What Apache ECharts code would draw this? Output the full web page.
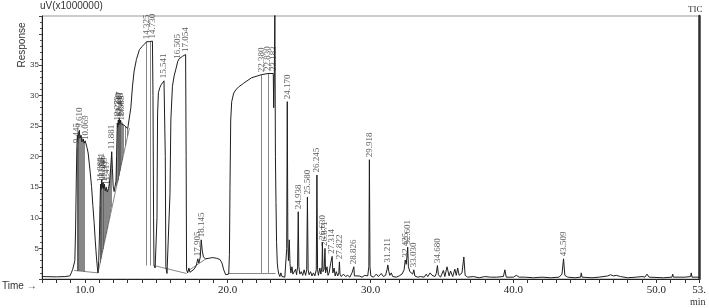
<!DOCTYPE html>
<html><head><meta charset="utf-8">
<script src="https://cdn.jsdelivr.net/npm/echarts@6/dist/echarts.min.js"></script>
<style>html,body{margin:0;padding:0;background:#fff}#c{width:709px;height:308px}</style>
</head><body><div id="c"></div>
<script>
// Retention time (min) and response (uV x 1,000,000)
const times = [7.00,8.00,8.60,8.95,9.05,9.15,9.25,9.30,9.35,9.40,9.44,9.478,9.51,9.55,9.61,9.66,9.72,9.80,9.88,9.95,10.02,10.069,10.15,10.23,10.35,10.47,10.56,10.65,10.73,10.81,10.87,10.92,
10.97,11.02,11.06,11.10,11.14,11.18,11.22,11.27,11.32,11.37,11.43,11.50,11.57,11.65,11.72,11.80,11.881,11.93,11.98,12.05,12.12,
12.18,12.22,12.27,12.31,12.34,12.38,12.42,12.46,12.50,12.55,12.62,12.72,12.85,13.00,13.12,
13.22,13.33,13.45,13.61,13.82,14.00,14.17,14.325,14.50,14.73,14.77,14.81,14.84,14.92,15.00,
15.05,15.09,15.15,15.25,15.35,15.45,15.541,15.60,15.63,15.67,15.75,15.88,
15.96,16.02,16.13,16.25,16.37,16.505,16.60,16.83,17.054,17.09,17.12,17.20,17.28,17.36,17.50,17.65,17.80,17.905,17.98,18.08,18.145,18.22,18.30,18.45,18.70,18.95,19.20,19.45,19.60,19.72,19.86,20.00,
20.07,20.12,20.16,20.21,20.28,20.42,20.56,20.76,21.11,21.67,22.36,22.83,23.19,23.22,23.26,23.30,23.34,23.38,23.42,23.47,23.52,23.58,23.65,23.72,23.80,23.90,24.00,24.08,
24.13,24.17,24.21,24.25,24.31,24.36,24.42,24.50,24.56,24.65,24.75,24.82,24.89,24.938,24.98,25.05,25.15,25.25,25.35,25.45,25.53,25.58,25.63,25.70,25.80,25.90,26.00,26.10,26.20,26.245,26.29,26.35,26.45,26.52,26.60,26.63,26.67,26.75,26.81,26.85,26.95,27.02,27.10,27.20,27.31,27.36,27.45,27.52,27.60,27.70,27.78,27.82,27.86,27.95,28.10,28.25,28.40,28.55,28.70,28.80,28.83,28.87,29.00,29.20,29.40,29.60,29.80,29.88,29.918,29.96,30.02,30.20,30.40,30.55,30.75,30.90,31.05,31.15,31.21,31.28,31.35,31.45,31.55,31.80,32.00,32.20,32.35,32.425,32.50,32.55,32.601,32.65,32.75,32.85,32.95,33.03,33.10,33.30,33.50,33.75,33.90,34.00,34.17,34.30,34.50,34.60,34.68,34.75,34.90,35.10,35.20,35.35,35.50,35.60,35.75,35.90,36.00,36.10,36.20,36.40,36.53,36.62,36.80,37.20,37.60,38.00,38.40,38.80,39.30,39.40,39.50,40.00,40.20,40.40,40.80,41.40,42.00,42.60,43.20,43.40,43.509,43.60,43.80,44.30,44.70,44.75,44.80,45.50,46.00,46.60,46.80,47.00,47.20,47.50,48.00,48.60,49.00,49.20,49.35,49.50,50.50,51.10,51.15,51.20,52.00,52.40,52.45,52.50,53.00];
const response = [0.4,0.35,0.4,0.5,1.0,1.6,1.7,3.0,8.0,16.0,21.5,23.5,22.8,23.8,24.3,23.0,23.5,22.4,22.9,22.2,22.6,22.3,21.5,20.6,18.0,15.1,12.0,9.2,6.2,3.6,2.0,1.0,
3.0,7.0,12.0,15.5,14.6,16.2,14.9,15.8,14.7,15.5,14.4,15.0,14.2,14.8,15.6,18.0,20.8,18.0,15.2,14.3,14.1,
16.0,20.0,25.5,24.8,26.0,25.2,26.2,25.4,26.0,25.3,25.6,25.2,25.0,24.6,24.7,
28.0,31.4,34.0,35.9,37.5,38.0,38.4,38.8,38.8,38.9,30.0,10.0,2.2,1.8,1.5,
10.0,27.0,30.5,31.3,31.8,32.1,32.4,32.2,20.0,2.0,0.9,0.8,
14.0,26.0,31.5,33.2,34.3,35.6,36.0,36.4,36.7,20.0,1.5,1.0,1.8,1.1,1.3,1.6,2.2,3.3,2.6,3.6,6.4,4.6,3.6,3.3,3.4,3.5,3.4,3.2,2.6,1.5,0.7,0.5,
0.8,4.0,15.0,26.0,29.0,30.4,30.9,31.4,32.0,32.9,33.4,33.6,33.6,28.0,33.0,43.5,20.0,12.5,6.0,2.6,1.5,0.8,0.4,1.0,0.4,0.6,0.3,0.5,
5.0,29.0,6.0,3.0,6.4,2.5,1.0,2.0,0.8,0.5,1.6,0.7,2.0,11.0,2.0,0.8,1.2,0.6,1.5,0.6,1.5,13.4,1.5,0.7,1.2,0.5,1.0,0.5,1.5,17.0,1.5,0.6,1.8,0.8,2.0,6.0,1.2,1.6,5.0,1.0,2.0,0.6,1.0,2.5,3.7,1.0,1.8,0.5,1.2,0.5,1.0,2.8,0.8,0.4,0.8,0.4,0.6,0.3,1.0,0.8,2.0,0.5,0.3,0.5,0.3,0.6,0.5,2.0,19.5,2.0,0.5,0.3,0.8,0.4,0.9,0.4,0.6,1.5,2.3,1.2,0.6,1.0,0.4,0.3,0.5,0.8,1.5,3.1,2.4,2.6,5.2,2.0,1.2,1.0,0.8,1.5,0.5,0.3,0.4,0.3,0.8,0.4,1.0,0.6,0.4,0.9,2.2,0.7,0.3,1.4,0.4,2.0,0.5,1.3,0.4,1.6,0.6,1.8,0.6,1.0,3.6,0.6,0.3,0.4,0.2,0.4,0.3,0.3,0.4,1.5,0.3,0.3,0.6,0.3,0.3,0.2,0.3,0.2,0.3,0.8,3.3,0.6,0.3,0.2,0.3,1.0,0.3,0.2,0.3,0.5,0.7,0.5,0.6,0.4,0.2,0.3,0.4,0.3,0.8,0.3,0.2,0.3,0.8,0.3,0.3,0.4,1.0,0.3,0.3];

// Peak annotations
const peakLabels = ['9.445','9.610','10.069','11.088','11.151','11.236','11.309','11.417','11.881','12.273','12.339','12.417','12.498','12.583','14.325','14.730','15.541','16.505','17.054','17.905','18.145','22.380','22.830','23.183','24.170','24.938','25.580','26.245','26.630','26.871','27.314','27.822','28.826','29.918','31.211','32.425','32.601','33.030','34.680','43.509'];
const peakTimes  = [9.445,9.610,10.069,11.10,11.18,11.27,11.37,11.50,11.881,12.27,12.34,12.42,12.50,12.58,14.325,14.730,15.541,16.505,17.054,17.905,18.145,22.380,22.830,23.183,24.170,24.938,25.580,26.245,26.630,26.81,27.31,27.822,28.826,29.918,31.211,32.425,32.601,33.030,34.680,43.509];
const peakHeights= [21.8,24.3,22.3,15.5,16.2,15.8,15.5,15.0,20.8,25.5,26.0,26.2,26.0,25.5,38.8,38.9,32.4,35.6,36.7,3.3,6.4,33.4,33.6,33.6,29.0,11.0,13.4,17.0,6.0,5.0,3.7,2.8,2.0,19.5,2.3,3.1,5.2,1.5,2.2,3.3];

// Integration drop lines: time, top, bottom
const dropTimes  = [9.44,9.478,9.51,9.55,9.61,9.66,9.72,9.80,9.88,9.95,11.06,11.10,11.14,11.18,11.22,11.27,11.32,11.37,11.43,11.50,11.57,11.65,11.72,11.80,11.881,12.22,12.27,12.31,12.34,12.38,12.42,12.46,12.50,12.55,12.62,12.72,12.85,13.00,14.325,14.55,22.380,22.830];
const dropTop    = [21.5,23.5,22.8,23.8,24.3,23.0,23.5,22.4,22.9,22.2,12.0,15.5,14.6,16.2,14.9,15.8,14.7,15.5,14.4,15.0,14.2,14.8,15.6,18.0,20.8,20.0,25.5,24.8,26.0,25.2,26.2,25.4,26.0,25.3,25.6,25.2,25.0,24.6,38.8,38.8,33.4,33.6];
const dropBottom = [1.3,1.3,1.3,1.3,1.3,1.3,1.3,1.3,1.2,1.2,2.6,3.0,3.4,3.9,4.3,4.9,5.4,6.0,6.7,7.4,8.2,9.1,9.9,10.8,11.7,15.2,15.7,16.1,16.4,16.9,17.3,17.7,18.1,18.7,19.4,20.5,21.8,23.4,2.2,2.2,1.0,1.0];
// Integration baselines: start time, start value, end time, end value
const baseT1 = [9.25,10.92,12.12,14.84,17.15,20.07];
const baseV1 = [1.4,1.0,14.1,2.2,1.2,1.0];
const baseT2 = [10.92,12.12,13.12,17.12,18.47,23.35];
const baseV2 = [1.0,14.1,24.7,0.9,3.3,1.0];

const xTickLabels = {10:'10.0',20:'20.0',30:'30.0',40:'40.0',50:'50.0',53:'53.'};
const yTickLabels = [5,10,15,20,25,30,35];

const chart = echarts.init(document.getElementById('c'), null, {renderer:'canvas'});
const trace = times.map((t,i)=>[t,response[i]]);
const segs = [];
dropTimes.forEach((t,i)=>segs.push({coords:[[t,dropBottom[i]],[t,dropTop[i]]]}));
baseT1.forEach((t,i)=>segs.push({coords:[[t,baseV1[i]],[baseT2[i],baseV2[i]]]}));
const labelData = peakTimes.map((t,i)=>({value:[t,peakHeights[i]], name:peakLabels[i]}));

chart.setOption({
  animation:false,
  grid:{left:42,right:5,top:16,bottom:29,show:true,borderColor:'#999',borderWidth:1},
  xAxis:{type:'value',min:7,max:53,interval:1,
    axisLine:{lineStyle:{color:'#222',width:1}},
    axisTick:{show:true,length:4,inside:false,lineStyle:{color:'#333'}},
    axisLabel:{interval:0,showMaxLabel:true,color:'#222',fontFamily:'Liberation Serif',fontSize:11,margin:6,
      formatter:v=>xTickLabels[v]||''},
    splitLine:{show:false}},
  yAxis:[{type:'value',min:0,max:43,interval:5,
    axisLine:{show:true,lineStyle:{color:'#222',width:1}},
    axisTick:{show:true,length:3,lineStyle:{color:'#444'}},
    minorTick:{show:true,splitNumber:5,length:2,lineStyle:{color:'#555'}},
    axisLabel:{color:'#444',fontFamily:'Liberation Sans',fontSize:8,margin:3,
      formatter:v=>yTickLabels.indexOf(v)>=0?String(v):''},
    splitLine:{show:false}},
   {type:'value',min:0,max:43,position:'right',
    axisLine:{show:true,lineStyle:{color:'#333',width:2.5}},
    axisTick:{show:false},axisLabel:{show:false},splitLine:{show:false}}],
  graphic:[
    {type:'text',left:40,top:1,style:{text:'uV(x1000000)',font:'10px "Liberation Sans"',fill:'#333'}},
    {type:'text',x:22,y:45,rotation:Math.PI/2,style:{text:'Response',font:'10px "Liberation Sans"',fill:'#333',align:'center',verticalAlign:'middle'}},
    {type:'text',left:2,top:281,style:{text:'Time \u2192',font:'10px "Liberation Sans"',fill:'#333'}},
    {type:'text',left:688,top:5,style:{text:'TIC',font:'9px "Liberation Serif"',fill:'#333'}},
    {type:'text',left:690,top:297,style:{text:'min',font:'10px "Liberation Serif"',fill:'#333'}}
  ],
  series:[
    {type:'lines',coordinateSystem:'cartesian2d',polyline:false,silent:true,
      lineStyle:{color:'#555',width:0.7,opacity:1},data:segs,z:2},
    {type:'line',data:trace,showSymbol:false,clip:true,
      lineStyle:{color:'#1e1e1e',width:1},z:3},
    {type:'scatter',data:labelData,symbolSize:1,itemStyle:{color:'rgba(0,0,0,0)'},z:4,
      label:{show:true,position:'top',distance:2,rotate:90,align:'left',verticalAlign:'middle',
        formatter:'{b}',fontFamily:'Liberation Serif',fontSize:9,color:'#333'}}
  ]
});
</script></body></html>
